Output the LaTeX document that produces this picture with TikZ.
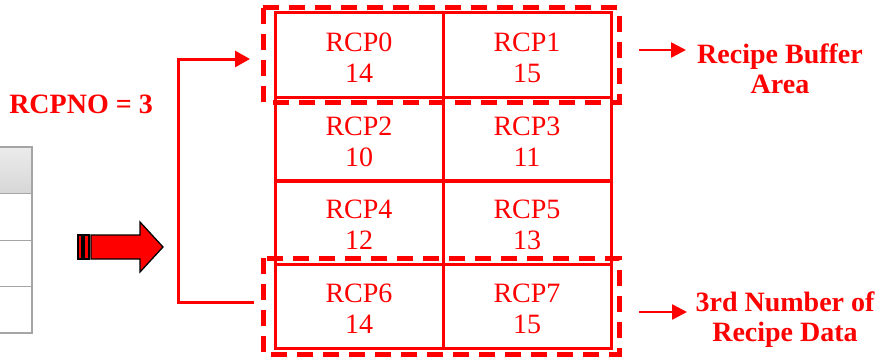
\documentclass[tikz,border=0pt]{standalone}
\usepackage{fontspec}
\setmainfont{Liberation Serif}
\usetikzlibrary{arrows.meta}
\definecolor{rd}{RGB}{255,0,0}
\definecolor{tgrey}{RGB}{165,165,165}
\definecolor{hgrey}{RGB}{215,215,215}
\begin{document}
\begin{tikzpicture}[x=1pt,y=-1pt,
  cell/.style={draw=rd,line width=3pt,minimum width=168pt,minimum height=84pt,inner sep=0pt},
  ctext/.style={text=rd,align=center,font=\fontsize{28}{31}\selectfont},
  grp/.style={draw=rd,line width=5pt,dash pattern=on 16pt off 10pt},
  lbl/.style={text=rd,align=center,font=\fontsize{28}{30}\selectfont\bfseries},
  conn/.style={draw=rd,line width=3pt},
  tip/.style={-{Triangle[length=15pt,width=16pt]}}]
\useasboundingbox (0,0) rectangle (890,361);
% left grey table fragment
\fill[top color=hgrey!50,bottom color=hgrey] (-2,147) rectangle (32,193);
\draw[tgrey,line width=1.2pt] (-2,147) -- (32,147) -- (32,333) -- (-2,333);
\foreach \yy in {193,240,286} \draw[tgrey,line width=1pt] (-2,\yy) -- (32,\yy);
% big arrow
\draw[black,line width=1.3pt,fill=rd] (78,235) rectangle (82,259);
\draw[black,line width=1.3pt,fill=rd] (84,235) rectangle (89,259);
\draw[black,line width=1.3pt,fill=rd,line join=miter] (91,235) -- (140,235) -- (140,222) -- (163,247) -- (140,272) -- (140,259) -- (91,259) -- cycle;
% cells
\node[cell] (c0) at (359,55) {};
\node[cell] (c1) at (527,55) {};
\node[cell] (c2) at (359,139) {};
\node[cell] (c3) at (527,139) {};
\node[cell] (c4) at (359,222) {};
\node[cell] (c5) at (527,222) {};
\node[cell] (c6) at (359,306) {};
\node[cell] (c7) at (527,306) {};
\node[ctext] (t0) at ([yshift=-3pt]c0.center) {RCP0\\14};
\node[ctext] (t1) at ([yshift=-3pt]c1.center) {RCP1\\15};
\node[ctext] (t2) at ([yshift=-3pt]c2.center) {RCP2\\10};
\node[ctext] (t3) at ([yshift=-3pt]c3.center) {RCP3\\11};
\node[ctext] (t4) at ([yshift=-3pt]c4.center) {RCP4\\12};
\node[ctext] (t5) at ([yshift=-3pt]c5.center) {RCP5\\13};
\node[ctext] (t6) at ([yshift=-3pt]c6.center) {RCP6\\14};
\node[ctext] (t7) at ([yshift=-3pt]c7.center) {RCP7\\15};
% dashed groups
\draw[grp] (263,8) rectangle (619,102);
\draw[grp] (263,258) rectangle (619,354);
% left connector
\coordinate (jt) at (178,59);
\coordinate (jb) at (178,302);
\coordinate (et) at (250,59);
\coordinate (eb) at (254,302);
\draw[conn,tip] (eb) -- (jb) -- (jt) -- (et);
% labels
\node[lbl,anchor=base] (rno) at (81,113) {RCPNO = 3};
\node[lbl] (rba) at (780,69) {Recipe Buffer\\Area};
\node[lbl] (rda) at (785,320) {3rd Number of\\Recipe Data};
\coordinate (a1) at (639,50);
\coordinate (a2) at (639,312);
\draw[conn,line width=2.5pt,-{Triangle[length=15pt,width=15pt]}] (a1) -- (686,50);
\draw[conn,line width=2.5pt,-{Triangle[length=15pt,width=15pt]}] (a2) -- (687,312);
\end{tikzpicture}
\end{document}
